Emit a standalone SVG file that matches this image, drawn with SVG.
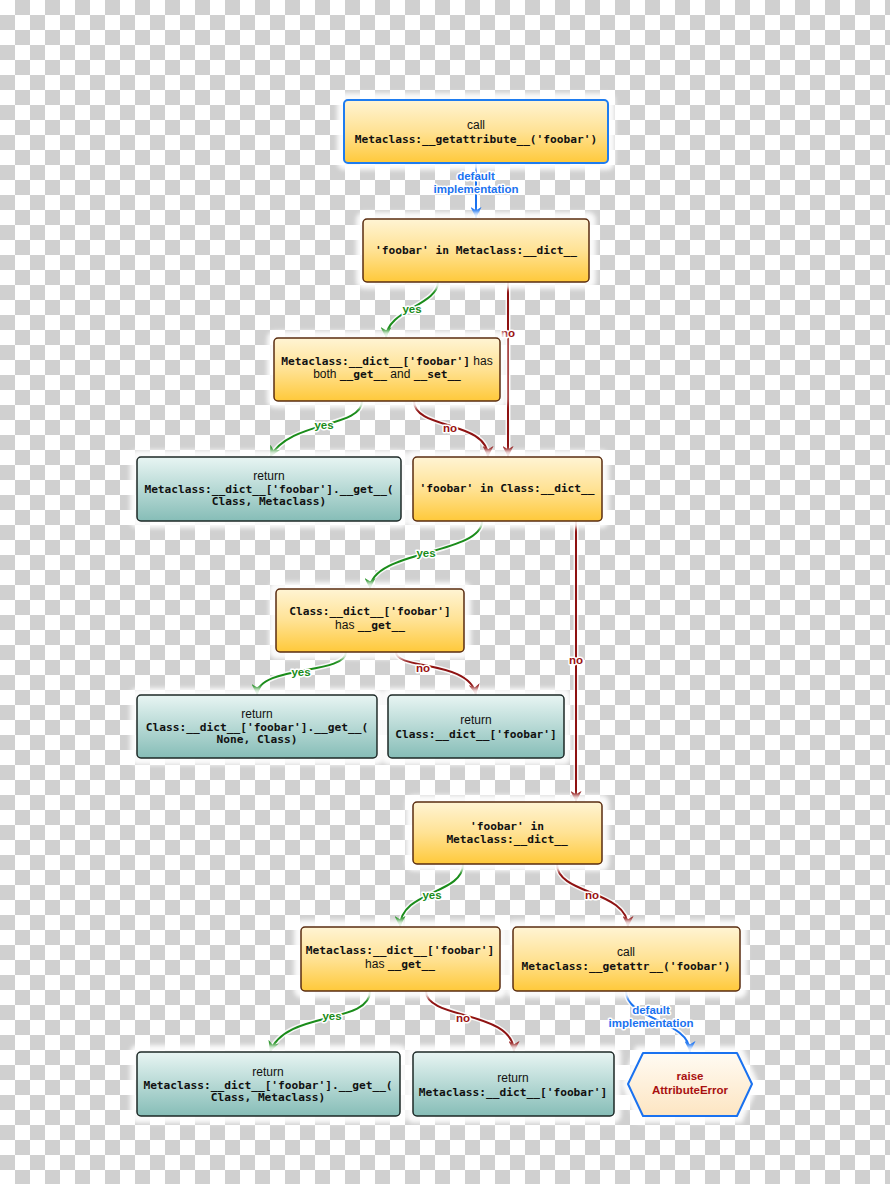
<svg xmlns="http://www.w3.org/2000/svg" width="890" height="1184" viewBox="0 0 890 1184">
<defs>
<pattern id="chk" width="30" height="30" patternUnits="userSpaceOnUse">
<rect width="30" height="30" fill="#ffffff"/>
<rect x="15" y="0" width="15" height="15" fill="#d0d0d0"/>
<rect x="0" y="15" width="15" height="15" fill="#d0d0d0"/>
</pattern>
<linearGradient id="gOr" x1="0" y1="0" x2="0" y2="1">
<stop offset="0" stop-color="#fff4d4"/>
<stop offset="0.5" stop-color="#ffe294"/>
<stop offset="1" stop-color="#ffc93a"/>
</linearGradient>
<linearGradient id="gTe" x1="0" y1="0" x2="0" y2="1">
<stop offset="0" stop-color="#e8f5f3"/>
<stop offset="1" stop-color="#86bdb7"/>
</linearGradient>
<linearGradient id="gHex" x1="0" y1="0" x2="0" y2="1">
<stop offset="0" stop-color="#fffbf3"/>
<stop offset="1" stop-color="#fde5c2"/>
</linearGradient>
<filter id="glow" x="-10%" y="-20%" width="120%" height="140%">
<feGaussianBlur stdDeviation="2"/>
</filter>
<marker id="aG" viewBox="0 0 10 10" refX="10" refY="5" markerWidth="11" markerHeight="11" markerUnits="userSpaceOnUse" orient="auto">
<path d="M0,0 L10,5 L0,10 L3,5 z" fill="#1a8c1a"/>
</marker>
<marker id="aR" viewBox="0 0 10 10" refX="10" refY="5" markerWidth="11" markerHeight="11" markerUnits="userSpaceOnUse" orient="auto">
<path d="M0,0 L10,5 L0,10 L3,5 z" fill="#8e1212"/>
</marker>
<marker id="aB" viewBox="0 0 10 10" refX="10" refY="5" markerWidth="11" markerHeight="11" markerUnits="userSpaceOnUse" orient="auto">
<path d="M0,0 L10,5 L0,10 L3,5 z" fill="#1a72f0"/>
</marker>
</defs>
<style>
.halo{fill:#ffffff;opacity:0.9;filter:url(#glow)}
.or{fill:url(#gOr);stroke:#5a2c10;stroke-width:1.5}
.te{fill:url(#gTe);stroke:#1c2826;stroke-width:1.5}
.mono{font-family:"DejaVu Sans Mono","Liberation Mono",monospace;font-weight:bold;font-size:11.2px;fill:#111111}
.sans{font-family:"Liberation Sans",Arial,sans-serif;font-size:12px;fill:#111111;font-weight:normal}
.t{text-anchor:middle}
.under{fill:none;stroke:#ffffff;stroke-width:5;stroke-opacity:0.85}
.cg{fill:none;stroke:#1a8c1a;stroke-width:2}
.cr{fill:none;stroke:#8e1212;stroke-width:2}
.cb{fill:none;stroke:#1a72f0;stroke-width:2}
.lbl{font-family:"Liberation Sans",Arial,sans-serif;font-size:11.5px;font-weight:bold;text-anchor:middle;stroke:#ffffff;stroke-width:3;paint-order:stroke;stroke-linejoin:round}
.lg{fill:#1a8c1a}
.lr{fill:#9a1010}
.lb{fill:#1a72f0}
.err{font-family:"Liberation Sans",Arial,sans-serif;font-size:11.5px;font-weight:bold;fill:#a81010;text-anchor:middle}
</style>
<rect width="890" height="1184" fill="url(#chk)"/>

<g id="connectors">
<path class="under" d="M476,163 L476,218"/>
<path class="cb" d="M476,163 L476,218" marker-end="url(#aB)"/>
<path class="under" d="M438,282 C438,305 386,310 386,338"/>
<path class="cg" d="M438,282 C438,305 386,310 386,338" marker-end="url(#aG)"/>
<path class="under" d="M508,282 L508,457"/>
<path class="cr" d="M508,282 L508,457" marker-end="url(#aR)"/>
<path class="under" d="M362,401 C362,428 290,420 270,457"/>
<path class="cg" d="M362,401 C362,428 290,420 270,457" marker-end="url(#aG)"/>
<path class="under" d="M414,401 C414,430 488,420 488,457"/>
<path class="cr" d="M414,401 C414,430 488,420 488,457" marker-end="url(#aR)"/>
<path class="under" d="M482,521 C482,555 370,550 370,589"/>
<path class="cg" d="M482,521 C482,555 370,550 370,589" marker-end="url(#aG)"/>
<path class="under" d="M576,521 L576,802"/>
<path class="cr" d="M576,521 L576,802" marker-end="url(#aR)"/>
<path class="under" d="M346,652 C346,675 257,665 257,695"/>
<path class="cg" d="M346,652 C346,675 257,665 257,695" marker-end="url(#aG)"/>
<path class="under" d="M396,652 C396,670 470,660 476,695"/>
<path class="cr" d="M396,652 C396,670 470,660 476,695" marker-end="url(#aR)"/>
<path class="under" d="M463,864 C463,895 400,890 400,927"/>
<path class="cg" d="M463,864 C463,895 400,890 400,927" marker-end="url(#aG)"/>
<path class="under" d="M557,864 C557,895 628,890 628,927"/>
<path class="cr" d="M557,864 C557,895 628,890 628,927" marker-end="url(#aR)"/>
<path class="under" d="M370,991 C370,1025 285,1010 270,1052"/>
<path class="cg" d="M370,991 C370,1025 285,1010 270,1052" marker-end="url(#aG)"/>
<path class="under" d="M426,991 C426,1020 514,1010 514,1052"/>
<path class="cr" d="M426,991 C426,1020 514,1010 514,1052" marker-end="url(#aR)"/>
<path class="under" d="M626,991 C626,1020 690,1020 690,1052"/>
<path class="cb" d="M626,991 C626,1020 690,1020 690,1052" marker-end="url(#aB)"/>

<text class="lbl lb" x="476" y="180">default</text>
<text class="lbl lb" x="476" y="193">implementation</text>
<text class="lbl lg" x="412" y="313">yes</text>
<text class="lbl lr" x="508" y="337">no</text>
<text class="lbl lg" x="324" y="429">yes</text>
<text class="lbl lr" x="450" y="432">no</text>
<text class="lbl lg" x="426" y="557">yes</text>
<text class="lbl lr" x="576" y="664">no</text>
<text class="lbl lg" x="301" y="676">yes</text>
<text class="lbl lr" x="423" y="672">no</text>
<text class="lbl lg" x="432" y="899">yes</text>
<text class="lbl lr" x="592" y="899">no</text>
<text class="lbl lg" x="332" y="1020">yes</text>
<text class="lbl lr" x="463" y="1022">no</text>
<text class="lbl lb" x="651" y="1014">default</text>
<text class="lbl lb" x="651" y="1027">implementation</text>
</g>

<g id="n1">
<rect class="halo" x="337" y="93" width="278" height="77" rx="8"/>
<rect x="344" y="100" width="264" height="63" rx="4" fill="url(#gOr)" stroke="#1e7cf0" stroke-width="2"/>
<text class="sans t" x="476" y="129">call</text>
<text class="mono t" x="476" y="143">Metaclass:__getattribute__('foobar')</text>
</g>

<g id="n2">
<rect class="halo" x="356" y="212" width="240" height="77" rx="8"/>
<rect class="or" x="363" y="219" width="226" height="63" rx="4"/>
<text class="mono t" x="476" y="254">'foobar' in Metaclass:__dict__</text>
</g>

<g id="n3">
<rect class="halo" x="267" y="331" width="240" height="77" rx="8"/>
<rect class="or" x="274" y="338" width="226" height="63" rx="4"/>
<text class="t" x="387" y="365"><tspan class="mono">Metaclass:__dict__['foobar']</tspan><tspan class="sans"> has</tspan></text>
<text class="t" x="387" y="378"><tspan class="sans">both </tspan><tspan class="mono">__get__</tspan><tspan class="sans"> and </tspan><tspan class="mono">__set__</tspan></text>
</g>

<g id="n4">
<rect class="halo" x="130" y="450" width="278" height="78" rx="8"/>
<rect class="te" x="137" y="457" width="264" height="64" rx="4"/>
<text class="sans t" x="269" y="480">return</text>
<text class="mono t" x="269" y="493">Metaclass:__dict__['foobar'].__get__(</text>
<text class="mono t" x="269" y="505">Class, Metaclass)</text>
</g>

<g id="n5">
<rect class="halo" x="406" y="450" width="203" height="78" rx="8"/>
<rect class="or" x="413" y="457" width="189" height="64" rx="4"/>
<text class="mono t" x="507" y="492">'foobar' in Class:__dict__</text>
</g>

<g id="n6">
<rect class="halo" x="269" y="582" width="202" height="77" rx="8"/>
<rect class="or" x="276" y="589" width="188" height="63" rx="4"/>
<text class="mono t" x="370" y="615">Class:__dict__['foobar']</text>
<text class="t" x="370" y="629"><tspan class="sans">has </tspan><tspan class="mono">__get__</tspan></text>
</g>

<g id="n7">
<rect class="halo" x="130" y="688" width="254" height="77" rx="8"/>
<rect class="te" x="137" y="695" width="240" height="63" rx="4"/>
<text class="sans t" x="257" y="718">return</text>
<text class="mono t" x="257" y="731">Class:__dict__['foobar'].__get__(</text>
<text class="mono t" x="257" y="743">None, Class)</text>
</g>

<g id="n8">
<rect class="halo" x="381" y="688" width="190" height="77" rx="8"/>
<rect class="te" x="388" y="695" width="176" height="63" rx="4"/>
<text class="sans t" x="476" y="724">return</text>
<text class="mono t" x="476" y="738">Class:__dict__['foobar']</text>
</g>

<g id="n9">
<rect class="halo" x="406" y="795" width="203" height="76" rx="8"/>
<rect class="or" x="413" y="802" width="189" height="62" rx="4"/>
<text class="mono t" x="507" y="830">'foobar' in</text>
<text class="mono t" x="507" y="843">Metaclass:__dict__</text>
</g>

<g id="n10">
<rect class="halo" x="294" y="920" width="213" height="78" rx="8"/>
<rect class="or" x="301" y="927" width="199" height="64" rx="4"/>
<text class="mono t" x="400" y="954">Metaclass:__dict__['foobar']</text>
<text class="t" x="400" y="968"><tspan class="sans">has </tspan><tspan class="mono">__get__</tspan></text>
</g>

<g id="n11">
<rect class="halo" x="506" y="920" width="241" height="78" rx="8"/>
<rect class="or" x="513" y="927" width="227" height="64" rx="4"/>
<text class="sans t" x="626" y="956">call</text>
<text class="mono t" x="626" y="970">Metaclass:__getattr__('foobar')</text>
</g>

<g id="n12">
<rect class="halo" x="130" y="1045" width="277" height="78" rx="8"/>
<rect class="te" x="137" y="1052" width="263" height="64" rx="4"/>
<text class="sans t" x="268" y="1076">return</text>
<text class="mono t" x="268" y="1089">Metaclass:__dict__['foobar'].__get__(</text>
<text class="mono t" x="268" y="1101">Class, Metaclass)</text>
</g>

<g id="n13">
<rect class="halo" x="406" y="1045" width="215" height="78" rx="8"/>
<rect class="te" x="413" y="1052" width="201" height="64" rx="4"/>
<text class="sans t" x="513" y="1082">return</text>
<text class="mono t" x="513" y="1096">Metaclass:__dict__['foobar']</text>
</g>

<g id="n14">
<path class="halo" d="M636,1046 L742,1046 L759,1084 L742,1123 L636,1123 L621,1084 Z"/>
<path d="M643,1053 L737,1053 L752,1084 L737,1116 L643,1116 L628,1084 Z" fill="url(#gHex)" stroke="#1a72f0" stroke-width="2" stroke-linejoin="round"/>
<text class="err" x="690" y="1080">raise</text>
<text class="err" x="690" y="1094">AttributeError</text>
</g>
</svg>
